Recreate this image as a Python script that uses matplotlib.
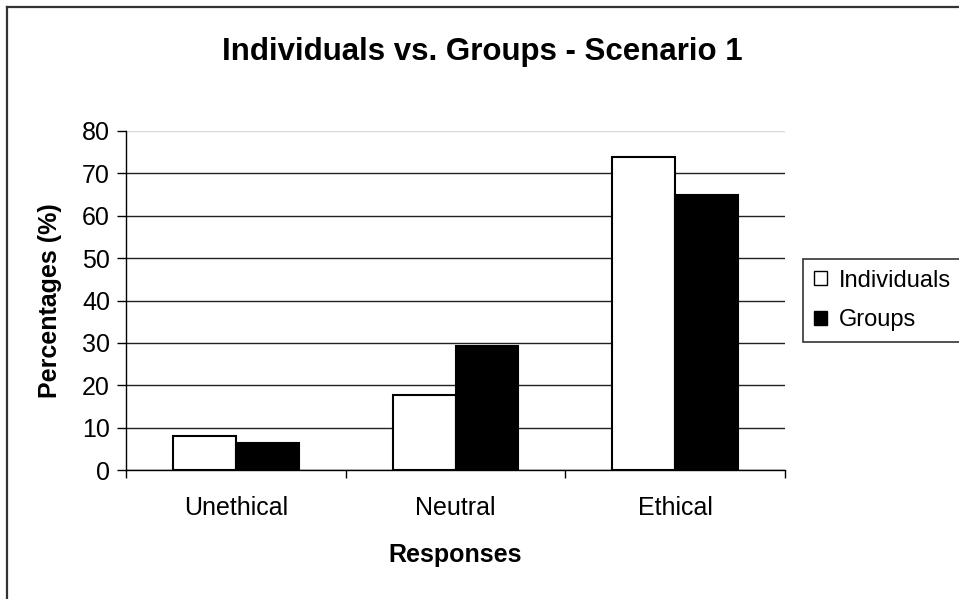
import numpy as np
import matplotlib
matplotlib.use("Agg")
import matplotlib.pyplot as plt
from matplotlib.lines import Line2D

# response categories and percentage of each group per category
categories = ["Unethical", "Neutral", "Ethical"]
individuals = [8.0, 17.8, 73.8]
groups = [6.3, 29.2, 64.9]
y_ticks = [0, 10, 20, 30, 40, 50, 60, 70, 80]

plt.rcParams["font.family"] = ["Liberation Sans", "DejaVu Sans"]

W, H = 959, 599
fig = plt.figure(figsize=(W / 100, H / 100), dpi=100)
fig.patch.set_facecolor("white")

# plot area in pixel units of the figure
left, right, top, bottom = 126, 785, 131, 470
ax = fig.add_axes([left / W, 1 - bottom / H, (right - left) / W, (bottom - top) / H])

x = np.arange(len(categories))
bw = 1 / 3.5
ax.bar(x - bw / 2, individuals, bw, color="white", edgecolor="black", linewidth=1.5,
       label="Individuals", zorder=3)
ax.bar(x + bw / 2, groups, bw, color="black", edgecolor="black", linewidth=1.5,
       label="Groups", zorder=3)

ax.set_xlim(-0.5, len(categories) - 0.5)
ax.set_ylim(0, 80)
ax.set_yticks(y_ticks)
ax.tick_params(axis="y", direction="out", length=6.5, width=1, pad=5, labelsize=18)

# category boundaries get the tick marks, centres get the labels
ax.set_xticks(np.arange(-0.5, len(categories)), minor=False)
ax.set_xticklabels([""] * (len(categories) + 1))
ax.set_xticks(x, minor=True)
ax.set_xticklabels(categories, minor=True)
ax.tick_params(axis="x", which="major", direction="out", length=5.5, width=1)
ax.tick_params(axis="x", which="minor", length=0, pad=19, labelsize=18)

ax.yaxis.grid(True, color="#222222", linewidth=1.0, zorder=0)
ax.set_axisbelow(True)
ax.yaxis.get_gridlines()[-1].set_color("#d8d8d8")

for s in ["top", "right"]:
    ax.spines[s].set_visible(False)
for s in ["left", "bottom"]:
    ax.spines[s].set_color("black")
    ax.spines[s].set_linewidth(1.0)

ax.set_ylabel("Percentages (%)", fontsize=18, fontweight="bold", va="center")
ax.yaxis.set_label_coords((50 - left) / (right - left), 0.5)
ax.set_xlabel("Responses", fontsize=18, fontweight="bold", va="center")
ax.xaxis.set_label_coords(0.5, -(555 - bottom) / (bottom - top))

fig.text(482 / W, 1 - 52 / H, "Individuals vs. Groups - Scenario 1",
         ha="center", va="center", fontsize=22.5, fontweight="bold")

leg = fig.legend(loc="upper left", bbox_to_anchor=(803 / W, 1 - 259 / H),
                 fontsize=17, frameon=True, fancybox=False, borderpad=0.45,
                 handlelength=0.55, handleheight=0.55, handletextpad=0.5,
                 labelspacing=0.75, borderaxespad=0)
leg.get_frame().set_edgecolor("black")
leg.get_frame().set_linewidth(1.2)
for h in leg.legend_handles:
    h.set_linewidth(1.0)

# chart border, runs off the right and bottom edges
fig.add_artist(Line2D([7 / W, 7 / W], [0, 1 - 6.5 / H], color="#333333", linewidth=1.6))
fig.add_artist(Line2D([7 / W, 1], [1 - 6.5 / H, 1 - 6.5 / H], color="#333333", linewidth=1.6))

fig.savefig("out.png", dpi=100)
